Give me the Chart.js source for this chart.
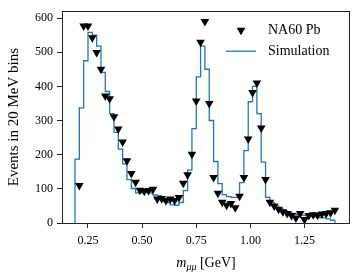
<!DOCTYPE html>
<html>
<head>
<meta charset="utf-8">
<script src="https://cdn.jsdelivr.net/npm/chart.js@4.4.1/dist/chart.umd.min.js"></script>
<style>
  html, body { margin: 0; padding: 0; background: #fff; }
  #wrap { width: 357px; height: 280px; position: relative; }
</style>
</head>
<body>
<div id="wrap"><canvas id="massChart"></canvas></div>
<script>
// Dimuon invariant mass, 20 MeV bins
const massPoints = [
    0.21, 0.23, 0.25, 0.27, 0.29, 0.31, 0.33, 0.35, 0.37, 0.39,
    0.41, 0.43, 0.45, 0.47, 0.49, 0.51, 0.53, 0.55, 0.57, 0.59,
    0.61, 0.63, 0.65, 0.67, 0.69, 0.71, 0.73, 0.75, 0.77, 0.79,
    0.81, 0.83, 0.85, 0.87, 0.89, 0.91, 0.93, 0.95, 0.97, 0.99,
    1.01, 1.03, 1.05, 1.07, 1.09, 1.11, 1.13, 1.15, 1.17, 1.19,
    1.21, 1.23, 1.25, 1.27, 1.29, 1.31, 1.33, 1.35, 1.37, 1.39
];
const binWidth = 0.02;

// NA60 Pb data (events per bin)
const na60Counts = [
    110, 577, 577, 542, 499, 450, 372, 364, 311, 275,
    237, 182, 145, 119, 96, 93, 95, 99, 70, 72,
    66, 70, 66, 75, 116, 141, 201, 357, 529, 590,
    350, 133, 87, 61, 52, 57, 45, 78, 133, 246,
    382, 410, 278, 127, 61, 50, 40, 33, 28, 22,
    15, 28, 10, 22, 24, 23, 26, 28, 30, 37
];

// Simulation histogram (bin k ends at massPoints[k])
const simCounts = [
    187, 337, 475, 558, 550, 518, 441, 385, 320, 265,
    216, 173, 127, 101, 88, 89, 89, 88, 82, 80,
    62, 60, 53, 52, 60, 95, 155, 276, 428, 518,
    450, 300, 180, 115, 83, 77, 75, 75, 118, 212,
    355, 400, 320, 178, 75, 60, 50, 42, 36, 32,
    28, 25, 23, 22, 20, 18, 16, 15, 12, 8
];

const xTicks = [0.25, 0.50, 0.75, 1.00, 1.25];
const yTicks = [0, 100, 200, 300, 400, 500, 600];

const serif = "'Liberation Serif', 'DejaVu Serif', serif";
const simColor = '#1f77b4';

// points for the step line
const simSteps = [{ x: massPoints[0] - binWidth, y: 0 }];
simCounts.forEach((v, i) => simSteps.push({ x: massPoints[i] - binWidth, y: v }));
simSteps.push({ x: massPoints[massPoints.length - 1], y: simCounts[simCounts.length - 1] });
simSteps.push({ x: massPoints[massPoints.length - 1], y: 0 });

const na60Points = massPoints.map((m, i) => ({ x: m, y: na60Counts[i] }));

// frame, axis titles and legend
const extras = {
    id: 'extras',
    afterDraw(chart) {
        const ctx = chart.ctx;
        const a = chart.chartArea;
        ctx.save();

        ctx.strokeStyle = '#222';
        ctx.lineWidth = 1;
        ctx.strokeRect(Math.round(a.left) + 0.5, Math.round(a.top) + 0.5,
            Math.round(a.right - a.left) - 1, Math.round(a.bottom - a.top));

        // x title: m_{mu mu} [GeV]
        ctx.fillStyle = '#000';
        ctx.textBaseline = 'alphabetic';
        ctx.textAlign = 'left';
        const fMain = 'italic 14px ' + serif;
        const fSub = 'italic 10px ' + serif;
        const fRest = '14px ' + serif;
        ctx.font = fMain; const w1 = ctx.measureText('m').width;
        ctx.font = fSub; const w2 = ctx.measureText('μμ').width;
        ctx.font = fRest; const w3 = ctx.measureText(' [GeV]').width;
        let x0 = (a.left + a.right) / 2 - (w1 + w2 + w3) / 2;
        const base = 267;
        ctx.font = fMain; ctx.fillText('m', x0, base);
        ctx.font = fSub; ctx.fillText('μμ', x0 + w1, base + 3);
        ctx.font = fRest; ctx.fillText(' [GeV]', x0 + w1 + w2, base);

        // y title
        ctx.save();
        ctx.translate(14, (a.top + a.bottom) / 2);
        ctx.rotate(-Math.PI / 2);
        ctx.textAlign = 'center';
        ctx.textBaseline = 'middle';
        ctx.font = '15px ' + serif;
        ctx.fillText('Events in 20 MeV bins', 0, 0);
        ctx.restore();

        // legend
        const lx = a.right - 124;
        ctx.font = '14px ' + serif;
        ctx.textBaseline = 'middle';
        ctx.textAlign = 'left';
        const y1 = a.top + 19;
        const y2 = a.top + 40;
        ctx.beginPath();
        const cx = lx + 15, r = 5;
        ctx.moveTo(cx - r * 0.866, y1 - r * 0.5);
        ctx.lineTo(cx + r * 0.866, y1 - r * 0.5);
        ctx.lineTo(cx, y1 + r);
        ctx.closePath();
        ctx.fill();
        ctx.fillText('NA60 Pb', lx + 42, y1);
        ctx.strokeStyle = simColor;
        ctx.lineWidth = 1.3;
        ctx.beginPath();
        ctx.moveTo(lx, y2);
        ctx.lineTo(lx + 30, y2);
        ctx.stroke();
        ctx.fillText('Simulation', lx + 42, y2);

        ctx.restore();
    }
};

const ctx = document.getElementById('massChart').getContext('2d');
new Chart(ctx, {
    type: 'scatter',
    data: {
        datasets: [
            {
                label: 'NA60 Pb',
                data: na60Points,
                pointStyle: 'triangle',
                rotation: 180,
                pointRadius: 5,
                pointBackgroundColor: '#000',
                pointBorderColor: '#000',
                pointBorderWidth: 0,
                showLine: false
            },
            {
                label: 'Simulation',
                type: 'line',
                data: simSteps,
                stepped: 'before',
                borderColor: simColor,
                borderWidth: 1.3,
                pointRadius: 0,
                fill: false
            }
        ]
    },
    options: {
        responsive: true,
        maintainAspectRatio: false,
        animation: false,
        devicePixelRatio: 1,
        layout: { padding: { top: 8, right: 7, left: 0, bottom: 0 } },
        plugins: {
            legend: { display: false },
            tooltip: { enabled: false }
        },
        scales: {
            x: {
                type: 'linear',
                min: 0.13,
                max: 1.46,
                afterFit: function(scale) { scale.height = 57; },
                afterBuildTicks: function(scale) {
                    scale.ticks = xTicks.map(v => ({ value: v }));
                },
                grid: { drawOnChartArea: false, drawTicks: true, tickLength: 5, color: '#222' },
                border: { display: false },
                ticks: {
                    padding: 6,
                    color: '#000',
                    font: { family: serif, size: 12 },
                    maxRotation: 0,
                    callback: function(value) { return value.toFixed(2); }
                }
            },
            y: {
                min: 0,
                max: 620,
                afterFit: function(scale) { scale.width = 62; },
                afterBuildTicks: function(scale) {
                    scale.ticks = yTicks.map(v => ({ value: v }));
                },
                grid: { drawOnChartArea: false, drawTicks: true, tickLength: 5, color: '#222' },
                border: { display: false },
                ticks: {
                    padding: 4,
                    color: '#000',
                    font: { family: serif, size: 12 }
                }
            }
        }
    },
    plugins: [extras]
});
</script>
</body>
</html>
